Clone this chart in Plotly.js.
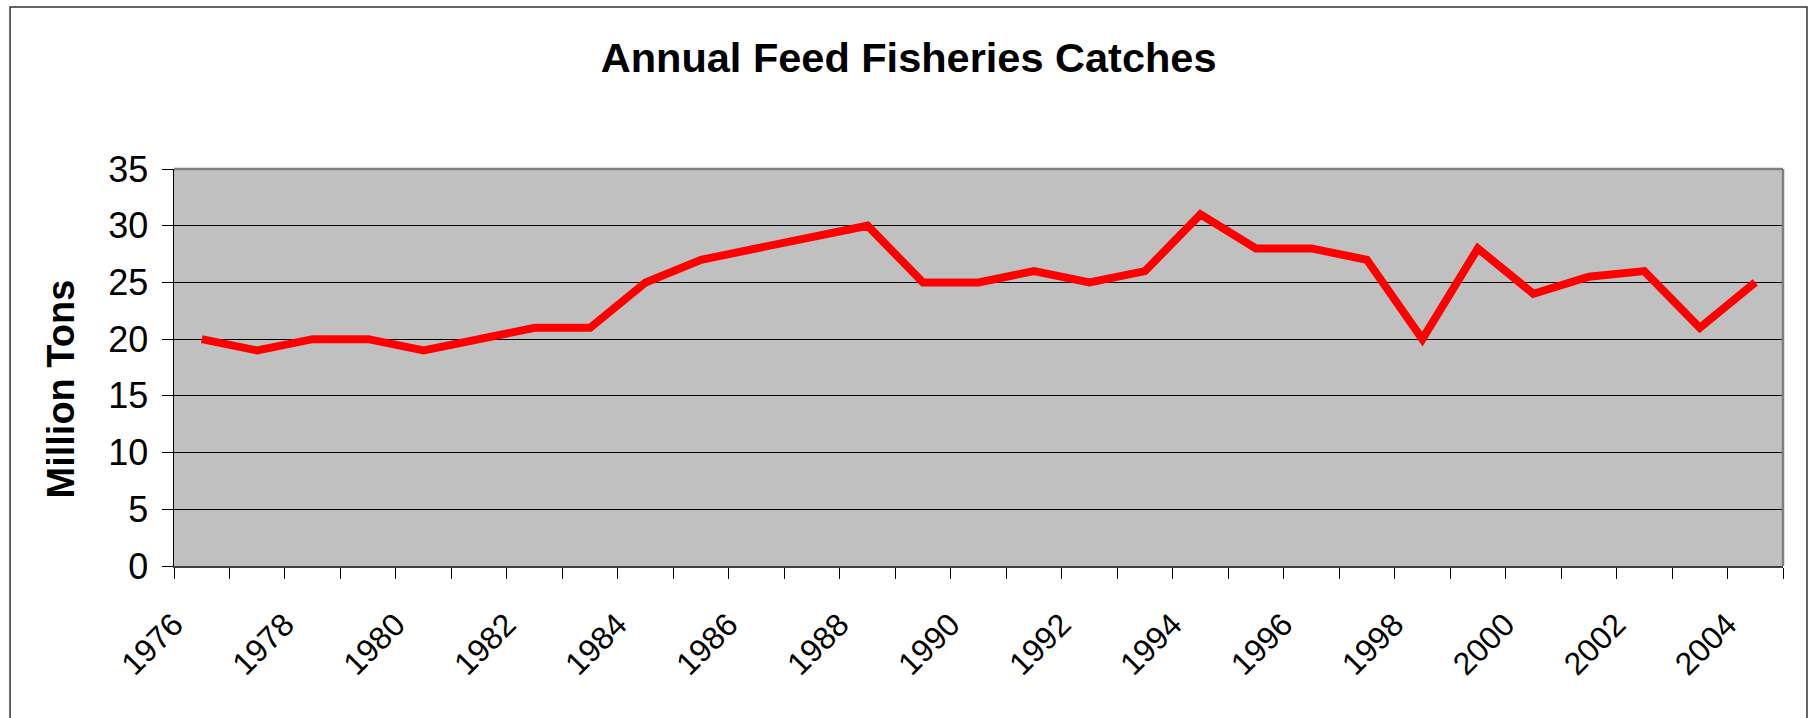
<!DOCTYPE html>
<html>
<head>
<meta charset="utf-8">
<script src="https://cdn.plot.ly/plotly-3.0.1.min.js"></script>
<style>
  html, body { margin: 0; padding: 0; background: #ffffff; }
  #chart { width: 1810px; height: 718px; }
</style>
</head>
<body>
<div id="chart"></div>
<script>
// Data
const years = [1976, 1977, 1978, 1979, 1980, 1981, 1982, 1983, 1984, 1985,
               1986, 1987, 1988, 1989, 1990, 1991, 1992, 1993, 1994, 1995,
               1996, 1997, 1998, 1999, 2000, 2001, 2002, 2003, 2004];
const catches = [20, 19, 20, 20, 19, 20, 21, 21, 25, 27,
                 28, 29, 30, 25, 25, 26, 25, 26, 31, 28,
                 28, 27, 20, 28, 24, 25.5, 26, 21, 25];
const tickYears = [1976, 1978, 1980, 1982, 1984, 1986, 1988, 1990,
                   1992, 1994, 1996, 1998, 2000, 2002, 2004];
const tickLabels = tickYears.map(String);
const yTicks = [0, 5, 10, 15, 20, 25, 30, 35];

const FONT = '"Liberation Sans", Arial, sans-serif';

const trace = {
  x: years,
  y: catches,
  type: 'scatter',
  mode: 'lines',
  line: { color: '#ff0000', width: 8 },
  hoverinfo: 'x+y'
};

const layout = {
  width: 1810,
  height: 718,
  paper_bgcolor: '#ffffff',
  plot_bgcolor: '#c0c0c0',
  margin: { l: 174, r: 27, t: 169, b: 152 },
  showlegend: false,
  title: {
    text: 'Annual Feed Fisheries Catches',
    font: { family: FONT, size: 41.5, color: '#000000', weight: 'bold' },
    x: 0.502, xanchor: 'center', xref: 'container',
    y: 0.92, yanchor: 'middle', yref: 'container'
  },
  xaxis: {
    type: 'linear',
    range: [years[0] - 0.5, years[years.length - 1] + 0.5],
    tickmode: 'array',
    tickvals: tickYears,
    ticktext: tickLabels,
    tickangle: -45,
    ticks: 'outside',
    ticklen: 12,
    tickcolor: 'rgba(0,0,0,0)',
    ticklabelstandoff: 13,
    ticklabelshift: -28,
    tickfont: { family: FONT, size: 32, color: '#000000' },
    showgrid: false,
    zeroline: false,
    showline: true,
    linecolor: '#404040',
    linewidth: 2,
    minor: {
      tick0: years[0] - 0.5,
      dtick: 1,
      ticks: 'outside',
      ticklen: 11,
      tickcolor: '#000000',
      tickwidth: 1,
      showgrid: false
    },
    fixedrange: true
  },
  yaxis: {
    range: [0, 35],
    tickmode: 'array',
    tickvals: yTicks,
    ticktext: yTicks.map(String),
    ticks: 'outside',
    ticklen: 11,
    tickcolor: '#000000',
    tickwidth: 1,
    ticklabelstandoff: 6,
    tickfont: { family: FONT, size: 36, color: '#000000' },
    showgrid: true,
    gridcolor: '#000000',
    gridwidth: 1,
    zeroline: false,
    showline: true,
    linecolor: '#000000',
    linewidth: 1.5,
    fixedrange: true
  },
  annotations: [{
    text: 'Million Tons',
    xref: 'paper', yref: 'paper',
    x: -0.0705, y: 0.446,
    xanchor: 'center', yanchor: 'middle',
    textangle: -90,
    showarrow: false,
    font: { family: FONT, size: 38, color: '#000000', weight: 'bold' }
  }],
  shapes: [
    // gray top and right frame of plot area
    { type: 'line', xref: 'paper', yref: 'paper', x0: 0, x1: 1, y0: 1, y1: 1,
      line: { color: '#808080', width: 2.5 }, layer: 'above' },
    { type: 'line', xref: 'paper', yref: 'paper', x0: 1, x1: 1, y0: 0, y1: 1,
      line: { color: '#808080', width: 2.5 }, layer: 'above' },
    // outer chart border
    { type: 'rect', xref: 'paper', yref: 'paper',
      x0: -0.1019, x1: 1.0149, y0: -0.40, y1: 1.408,
      line: { color: '#303030', width: 1.5 }, fillcolor: 'rgba(0,0,0,0)', layer: 'below' }
  ]
};

Plotly.newPlot('chart', [trace], layout, { displayModeBar: false, staticPlot: true });
</script>
</body>
</html>
